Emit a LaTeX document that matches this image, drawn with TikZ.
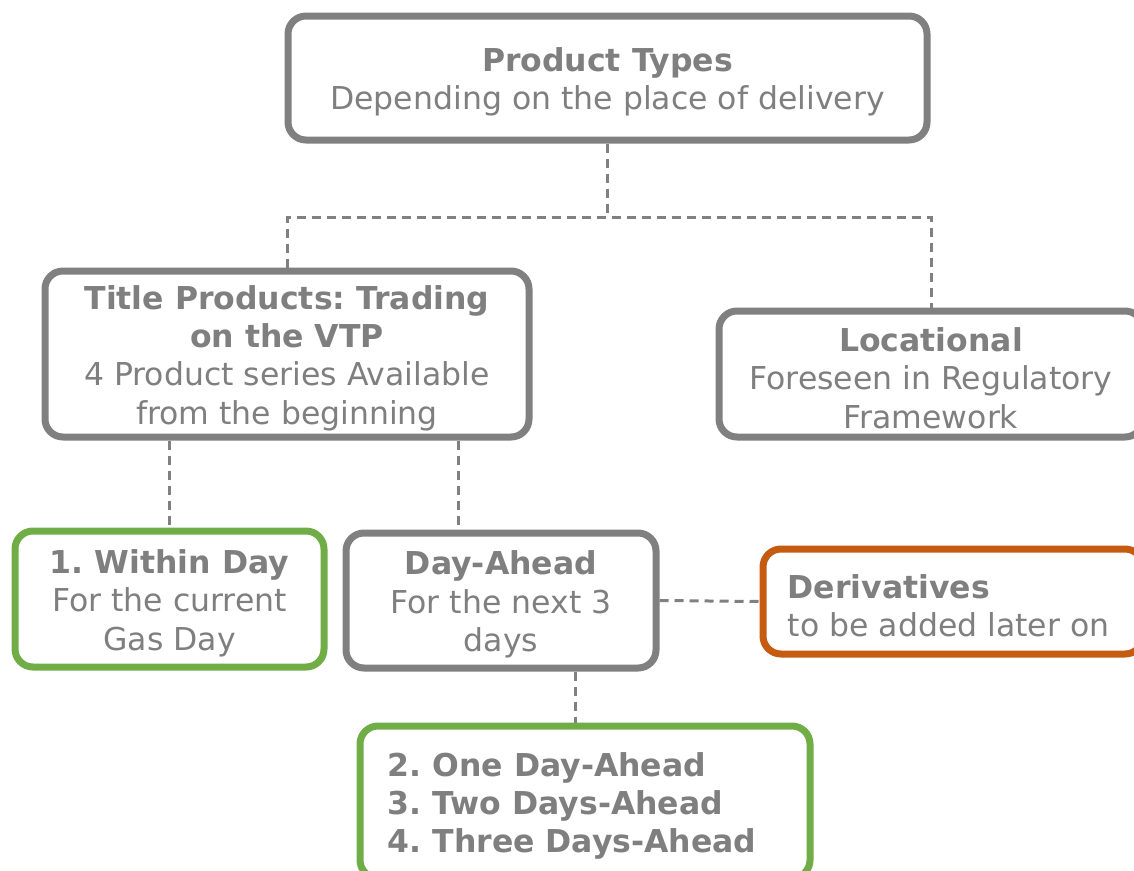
\documentclass[tikz,border=0pt]{standalone}
\usepackage{fontspec}
\setmainfont{DejaVu Sans}
\frenchspacing
\definecolor{txtgray}{HTML}{7F7F7F}
\definecolor{boxgray}{HTML}{808080}
\definecolor{boxgreen}{HTML}{70AD47}
\definecolor{boxorange}{HTML}{C55A11}
\tikzset{
  box/.style={draw=boxgray, line width=7pt, rounded corners=18pt, fill=white, inner sep=0pt},
  greenbox/.style={box, draw=boxgreen},
  orangebox/.style={box, draw=boxorange},
  txt/.style={text=txtgray, align=center, inner sep=0pt,
    font=\fontsize{31.5}{38.3}\selectfont, yshift=-4pt},
  conn/.style={draw=boxgray, line width=3pt, dash pattern=on 9pt off 6pt}
}
\begin{document}
\begin{tikzpicture}[x=1pt, y=-1pt]
\useasboundingbox (0,0) rectangle (1134,870);
\coordinate (bus) at (607,217);
% boxes
\node[box, minimum width=639pt, minimum height=124pt] (top) at (607.5,78) {};
\node[box, minimum width=484pt, minimum height=166pt] (title) at (287,354) {};
\node[box, minimum width=424pt, minimum height=126pt] (loc) at (931,374) {};
\node[greenbox, minimum width=309pt, minimum height=136pt] (within) at (169.5,599) {};
\node[box, minimum width=310pt, minimum height=135pt] (day) at (501,600.5) {};
\node[orangebox, minimum width=380pt, minimum height=105pt] (deriv) at (953,601.5) {};
\node[greenbox, minimum width=450pt, minimum height=152pt] (bottom) at (585,802) {};
% texts
\node[txt] (toptxt) at (top.center)
  {\textbf{Product Types}\\Depending on the place of delivery};
\node[txt] (titletxt) at (title.center)
  {\textbf{Title Products: Trading}\\\textbf{on the VTP}\\4 Product series Available\\from the beginning};
\node[txt] (loctxt) at (loc.center)
  {\textbf{Locational}\\Foreseen in Regulatory\\Framework};
\node[txt] (withintxt) at (within.center)
  {\textbf{1. Within Day}\\For the current\\Gas Day};
\node[txt] (daytxt) at (day.center)
  {\textbf{Day-Ahead}\\For the next 3\\days};
\node[txt, align=left, anchor=west] (derivtxt) at ([xshift=28pt]deriv.west)
  {\textbf{Derivatives}\\to be added later on};
\node[txt, align=left, anchor=west] (bottomtxt) at ([xshift=31pt]bottom.west)
  {\textbf{2. One Day-Ahead}\\\textbf{3. Two Days-Ahead}\\\textbf{4. Three Days-Ahead}};
% connectors
\draw[conn] (top.south) -- (top.south |- bus);
\draw[conn] (title.north) -- (title.north |- bus) -- (loc.north |- bus) -- (loc.north);
\draw[conn] (title.south -| within.north) -- (within.north);
\draw[conn] ([xshift=171pt]title.south) -- ([xshift=-43pt]day.north);
\draw[conn] (day.east) -- (deriv.west);
\draw[conn] ([xshift=74pt]day.south) -- ([xshift=-10pt]bottom.north);
\end{tikzpicture}
\end{document}
